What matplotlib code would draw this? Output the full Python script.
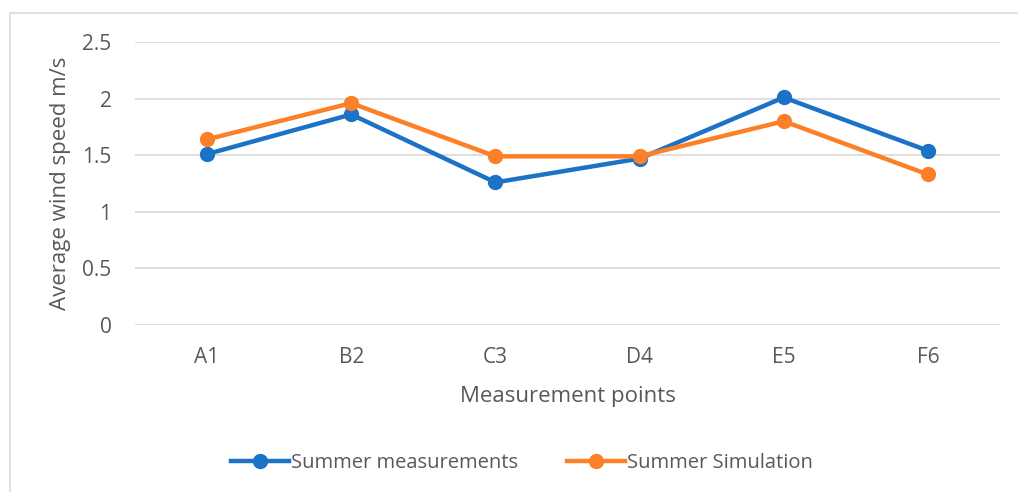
import matplotlib
matplotlib.use("Agg")
import matplotlib.pyplot as plt
from matplotlib.patches import Rectangle

categories = ["A1", "B2", "C3", "D4", "E5", "F6"]
measurements = [1.51, 1.86, 1.26, 1.47, 2.01, 1.54]
simulation = [1.64, 1.96, 1.49, 1.49, 1.80, 1.33]
yticks = [0, 0.5, 1, 1.5, 2, 2.5]
ytick_labels = ["0", "0.5", "1", "1.5", "2", "2.5"]

plt.rcParams['font.family'] = ['Open Sans', 'DejaVu Sans']
gray = '#595959'

fig = plt.figure(figsize=(10.18, 4.92), dpi=100)
fig.patches.append(Rectangle((10/1018, -0.1), 1.2, 1 - 13/492 + 0.1,
                             transform=fig.transFigure, fill=False,
                             edgecolor='#d9d9d9', linewidth=1.2))
ax = fig.add_axes([135/1018, 1 - 325/492, 865/1018, (325 - 42)/492])

x = list(range(len(categories)))
ax.plot(x, measurements, color='#1b72c6', lw=3.2, marker='o', markersize=10,
        label='Summer measurements', zorder=3)
ax.plot(x, simulation, color='#fd7f27', lw=3.2, marker='o', markersize=10,
        label='Summer Simulation', zorder=3)

ax.set_xlim(-0.5, len(categories) - 0.5)
ax.set_ylim(0, 2.5)
ax.set_yticks(yticks)
ax.set_yticklabels(ytick_labels)
ax.set_xticks(x)
ax.set_xticklabels(categories)
ax.grid(axis='y', color='#d9d9d9', lw=1.2)
ax.set_axisbelow(True)
for s in ax.spines.values():
    s.set_visible(False)
ax.tick_params(length=0, colors=gray, labelsize=15)
ax.tick_params(axis='y', pad=17)
ax.tick_params(axis='x', pad=16)
ax.set_xlabel('Measurement points', color=gray, fontsize=16, labelpad=13)
ax.set_ylabel('Average wind speed m/s', color=gray, fontsize=16, labelpad=8)

leg = fig.legend(loc='center', bbox_to_anchor=(522/1018, 1 - 463/492), ncol=2,
                 frameon=False, fontsize=14.5, handlelength=2.9, handletextpad=0.1,
                 columnspacing=2.4)
for t in leg.get_texts():
    t.set_color(gray)

fig.savefig('out.png', dpi=100)
